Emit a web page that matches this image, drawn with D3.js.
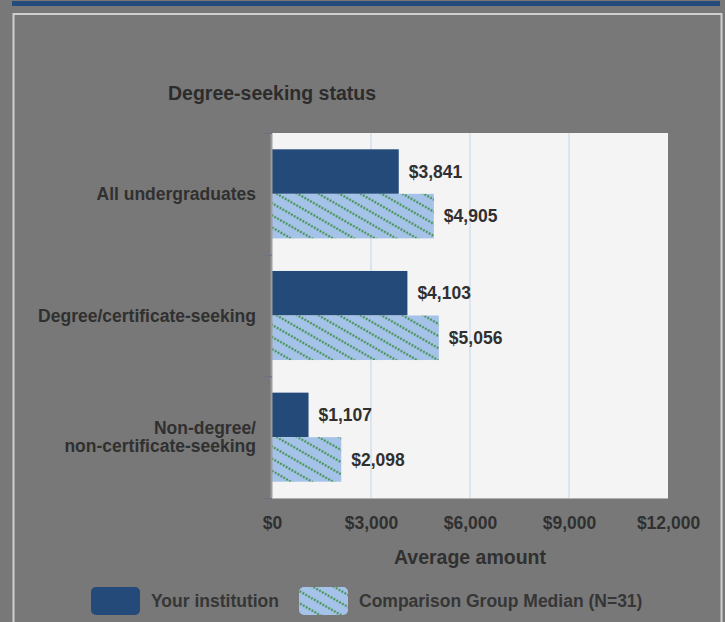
<!DOCTYPE html>
<html>
<head>
<meta charset="utf-8">
<script src="https://cdn.jsdelivr.net/npm/d3@7/dist/d3.min.js"></script>
<style>
  html, body { margin: 0; padding: 0; background: #787878; }
  svg { display: block; font-family: "Liberation Sans", Arial, sans-serif; }
</style>
</head>
<body>
<svg id="chart" width="725" height="622"></svg>
<script>
// ---- data ----
const categories = ["All undergraduates", "Degree/certificate-seeking", "Non-degree/\nnon-certificate-seeking"];
const seriesNames = ["Your institution", "Comparison Group Median (N=31)"];
const yourInstitution = [3841, 4103, 1107];
const comparisonMedian = [4905, 5056, 2098];
const xTicks = [0, 3000, 6000, 9000, 12000];
const chartTitle = "Degree-seeking status";
const xAxisTitle = "Average amount";

const svg = d3.select("#chart");
const W = 725, H = 622;
const plot = { left: 272, right: 668, top: 133, bottom: 498 };
const textColor = "#303030";
const darkBlue = "#244a79";
const lightBlue = "#a5c3e8";
const dotGreen = "#3a8c3f";

// defs: dotted diagonal pattern
const defs = svg.append("defs");
const pat = defs.append("pattern")
  .attr("id", "hatch")
  .attr("patternUnits", "userSpaceOnUse")
  .attr("width", 3.3).attr("height", 10.5)
  .attr("patternTransform", "rotate(30)");
pat.append("rect").attr("width", 3.3).attr("height", 10.5).attr("fill", lightBlue);
pat.append("circle").attr("cx", 1.65).attr("cy", 5.25).attr("r", 1.1).attr("fill", dotGreen);

// background
svg.append("rect").attr("width", W).attr("height", H).attr("fill", "#787878");
// top blue strip
svg.append("rect").attr("x", 12).attr("y", 1).attr("width", 708).attr("height", 5).attr("fill", "#254b7a");
// panel border
svg.append("rect").attr("x", 13.5).attr("y", 14).attr("width", 708).attr("height", 640)
  .attr("fill", "none").attr("stroke", "#cfcfcf").attr("stroke-width", 2);

// scales
const x = d3.scaleLinear().domain([0, 12000]).range([plot.left, plot.right]);
const y0 = d3.scaleBand().domain(categories).range([plot.top, plot.bottom])
  .paddingInner(0.268).paddingOuter(0.134);
const y1 = d3.scaleBand().domain(seriesNames).range([0, y0.bandwidth()]);

// plot background
svg.append("rect").attr("x", plot.left).attr("y", plot.top)
  .attr("width", plot.right - plot.left).attr("height", plot.bottom - plot.top)
  .attr("fill", "#f4f4f4");

// gridlines
svg.append("g").selectAll("line").data(xTicks.slice(1, -1)).join("line")
  .attr("x1", d => x(d)).attr("x2", d => x(d))
  .attr("y1", plot.top).attr("y2", plot.bottom)
  .attr("stroke", "#dce4ef").attr("stroke-width", 2);

// bars
const series = [
  { name: seriesNames[0], values: yourInstitution, fill: darkBlue },
  { name: seriesNames[1], values: comparisonMedian, fill: "url(#hatch)" }
];
const groups = svg.append("g").selectAll("g").data(categories).join("g")
  .attr("transform", d => `translate(0,${y0(d)})`);
groups.each(function(cat, i) {
  const g = d3.select(this);
  series.forEach(s => {
    const v = s.values[i];
    g.append("rect")
      .attr("x", x(0)).attr("y", y1(s.name))
      .attr("width", x(v) - x(0)).attr("height", y1.bandwidth())
      .attr("fill", s.fill);
    g.append("text")
      .attr("x", x(v) + 10).attr("y", y1(s.name) + y1.bandwidth() / 2)
      .attr("dy", "0.35em")
      .attr("font-size", 17.5).attr("font-weight", "bold").attr("fill", textColor)
      .text(d3.format("$,")(v));
  });
});

// left axis line and category ticks
svg.append("line").attr("x1", plot.left - 0.5).attr("x2", plot.left - 0.5)
  .attr("y1", plot.top).attr("y2", plot.bottom + 1)
  .attr("stroke", "#9c9c9c").attr("stroke-width", 2);
const boundaries = categories.map(c => y0(c) - y0.step() * y0.paddingInner() / 2).concat([plot.bottom]);
svg.append("g").selectAll("line").data(boundaries).join("line")
  .attr("x1", plot.left - 9).attr("x2", plot.left)
  .attr("y1", d => d + 0.5).attr("y2", d => d + 0.5)
  .attr("stroke", "#6a7282").attr("stroke-width", 1);
// bottom edge
svg.append("line").attr("x1", plot.left).attr("x2", plot.right)
  .attr("y1", plot.bottom + 0.5).attr("y2", plot.bottom + 0.5)
  .attr("stroke", "#b0b0b0").attr("stroke-width", 1);

// category labels
svg.append("g").selectAll("text").data(categories).join("text")
  .attr("x", 256)
  .attr("text-anchor", "end")
  .attr("font-size", 17.5).attr("font-weight", "bold").attr("fill", textColor)
  .each(function(d) {
    const lines = d.split("\n");
    const cy = y0(d) + y0.bandwidth() / 2;
    const t = d3.select(this);
    lines.forEach((ln, k) => {
      t.append("tspan").attr("x", 256)
        .attr("y", cy + (k - (lines.length - 1) / 2) * 18)
        .attr("dy", "0.35em").text(ln);
    });
  });

// x axis
const xAxis = d3.axisBottom(x).tickValues(xTicks).tickFormat(d3.format("$,")).tickSize(0).tickPadding(0);
const gx = svg.append("g").attr("transform", `translate(0,${plot.bottom})`).call(xAxis);
gx.select(".domain").remove();
gx.selectAll("text")
  .attr("y", 25).attr("dy", "0.35em")
  .attr("font-family", "Liberation Sans, Arial, sans-serif")
  .attr("font-size", 17.5).attr("font-weight", "bold").attr("fill", textColor);

// axis title
svg.append("text").attr("x", (plot.left + plot.right) / 2).attr("y", 557).attr("dy", "0.35em")
  .attr("text-anchor", "middle").attr("font-size", 19.5).attr("font-weight", "bold")
  .attr("fill", textColor).text(xAxisTitle);

// chart title
svg.append("text").attr("x", 272).attr("y", 93).attr("dy", "0.35em")
  .attr("text-anchor", "middle").attr("font-size", 19.5).attr("font-weight", "bold")
  .attr("fill", "#2c2c2c").text(chartTitle);

// legend
const legendItems = [
  { name: seriesNames[0], fill: darkBlue, x: 91, tx: 151 },
  { name: seriesNames[1], fill: "url(#hatch)", x: 299, tx: 359 }
];
const lg = svg.append("g").selectAll("g").data(legendItems).join("g");
lg.append("rect").attr("x", d => d.x).attr("y", 587).attr("width", 49).attr("height", 28)
  .attr("rx", 5).attr("fill", d => d.fill);
lg.append("text").attr("x", d => d.tx).attr("y", 601).attr("dy", "0.35em")
  .attr("font-size", 17.5).attr("font-weight", "bold").attr("fill", "#363636")
  .text(d => d.name);
</script>
</body>
</html>
